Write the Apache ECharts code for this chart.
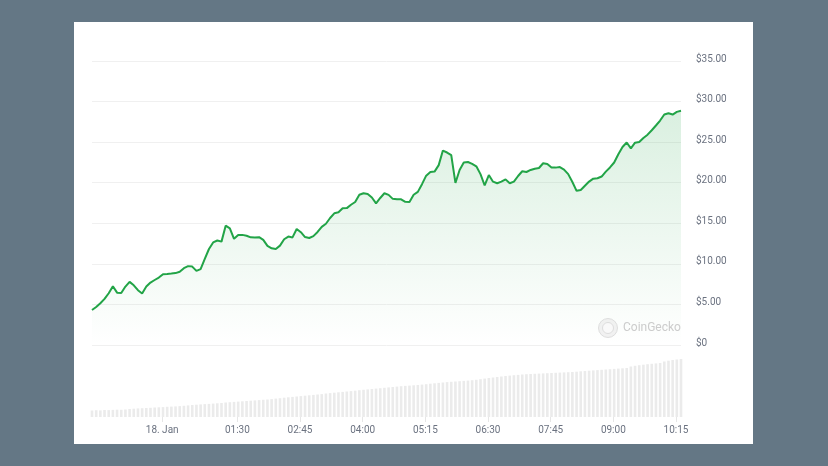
<!DOCTYPE html>
<html>
<head>
<meta charset="utf-8">
<script src="https://cdn.jsdelivr.net/npm/echarts@6/dist/echarts.min.js"></script>
<style>
html,body{margin:0;padding:0;background:#647785;}
#chart{width:828px;height:466px;}
</style>
</head>
<body>
<div id="chart"></div>
<script>
// Time: 5-minute steps starting 17 Jan 22:36 (minutes relative to 18 Jan 00:00)
const startMinute = -84;
const stepMinutes = 5;

// Price in USD, one value per 5-minute step
const priceValues = [
  4.31, 4.68, 5.14, 5.68, 6.38, 7.25, 6.45, 6.40, 7.20, 7.78,
  7.36, 6.75, 6.35, 7.20, 7.70, 8.01, 8.31, 8.73, 8.75, 8.80,
  8.86, 9.02, 9.47, 9.72, 9.66, 9.14, 9.35, 10.60, 11.83, 12.64,
  12.88, 12.74, 14.70, 14.38, 13.09, 13.56, 13.57, 13.47, 13.27, 13.25,
  13.29, 12.95, 12.21, 11.92, 11.84, 12.25, 13.03, 13.36, 13.26, 14.30,
  13.90, 13.30, 13.19, 13.42, 13.93, 14.56, 14.94, 15.65, 16.23, 16.35,
  16.85, 16.87, 17.28, 17.62, 18.51, 18.70, 18.62, 18.18, 17.45, 18.12,
  18.70, 18.50, 18.01, 17.95, 17.95, 17.64, 17.62, 18.51, 18.87, 19.82,
  20.87, 21.33, 21.37, 22.17, 23.96, 23.72, 23.40, 19.97, 21.57, 22.49,
  22.55, 22.33, 22.02, 21.06, 19.66, 20.95, 20.13, 19.94, 20.13, 20.41,
  19.93, 20.13, 20.83, 21.41, 21.32, 21.57, 21.73, 21.81, 22.40, 22.32,
  21.88, 21.86, 21.93, 21.62, 21.06, 20.09, 19.00, 19.10, 19.62, 20.14,
  20.50, 20.55, 20.76, 21.37, 21.88, 22.49, 23.50, 24.40, 24.96, 24.24,
  24.93, 25.01, 25.51, 25.92, 26.47, 27.05, 27.66, 28.41, 28.56, 28.40,
  28.73, 28.86
];

// Volume (relative units), one value per 5-minute step
const volumeValues = [
  6.5, 6.8, 6.6, 7.0, 6.9, 7.1, 7.3, 7.2, 7.5,
  8.0, 8.3, 8.6, 8.8, 9.0, 9.2, 9.5, 9.7, 9.9, 10.2, 10.4, 10.6, 10.9, 11.2,
  11.6, 12.0, 12.3, 12.6, 12.9, 13.1, 13.4, 13.7, 14.0,
  14.5, 14.8, 15.1, 15.4, 15.7, 16.0, 16.3, 16.6, 16.9, 17.2, 17.5, 17.9,
  18.4, 18.8, 19.3, 19.7, 20.1, 20.5, 20.9, 21.3, 21.7, 22.1, 22.5, 22.9,
  23.5, 23.9, 24.3, 24.7, 25.1, 25.5, 25.9, 26.3,
  26.8, 27.2, 27.6, 28.0, 28.4, 28.8, 29.2, 29.6, 30.0,
  30.4, 30.8, 31.1, 31.4, 31.7, 32.0, 32.4, 32.8,
  33.3, 33.7, 34.1, 34.5, 34.9, 35.2, 35.5, 35.8, 36.1, 36.4, 36.8, 37.2,
  37.8, 38.4, 39.0, 39.5, 40.0, 40.5, 41.0, 41.4, 41.8, 42.1,
  42.5, 42.8, 43.0, 43.2, 43.4, 43.6, 43.8, 44.0, 44.2, 44.4, 44.6, 44.8, 45.0, 45.3,
  45.7, 46.0, 46.3, 46.6, 46.9, 47.2, 47.5, 47.8, 48.1, 48.4, 48.7, 49.0,
  50.5, 51.2, 51.8, 52.3, 52.8, 53.2, 53.6, 54.0,
  55.5, 56.3, 57.0, 57.5, 58.0
];

// X tick labels and their positions (minutes from 18 Jan 00:00)
const xTickMinutes = [0, 90, 165, 240, 315, 390, 465, 540, 615];
const xTickLabels = ['18. Jan', '01:30', '02:45', '04:00', '05:15', '06:30', '07:45', '09:00', '10:15'];

const minutes = priceValues.map((_, i) => startMinute + i * stepMinutes);
const priceData = priceValues.map((v, i) => [minutes[i], v]);
const volumeData = volumeValues.map((v, i) => [minutes[i], v]);
const xMin = minutes[0];
const xMax = minutes[minutes.length - 1];

const green = '#22a447';
const labelFont = 'Roboto, "Noto Sans", sans-serif';

const chart = echarts.init(document.getElementById('chart'), null, {renderer: 'canvas'});
chart.setOption({
  backgroundColor: '#647785',
  animation: false,
  graphic: [
    {type: 'rect', z: -10, shape: {x: 74, y: 22, width: 679, height: 422},
     style: {fill: '#ffffff'}},
    {type: 'circle', z: 100, shape: {cx: 608, cy: 328, r: 9.5},
     style: {fill: 'rgba(235,235,235,0.7)', stroke: 'rgba(215,215,215,0.8)', lineWidth: 1}},
    {type: 'circle', z: 101, shape: {cx: 608, cy: 328, r: 5.5},
     style: {fill: 'rgba(255,255,255,0.6)', stroke: 'rgba(215,215,215,0.8)', lineWidth: 1}},
    {type: 'text', z: 100, x: 623, y: 328,
     style: {text: 'CoinGecko', fill: 'rgba(195,195,195,0.85)', font: '12px ' + labelFont, verticalAlign: 'middle'}}
  ],
  grid: [
    {left: 92, right: 147, top: 61, height: 284},
    {left: 92, right: 147, top: 355, height: 62}
  ],
  xAxis: [
    {type: 'value', gridIndex: 0, min: xMin, max: xMax,
     axisLine: {show: false}, axisTick: {show: false}, axisLabel: {show: false}, splitLine: {show: false}},
    {type: 'value', gridIndex: 1, min: xMin, max: xMax,
     axisLine: {show: false},
     axisTick: {show: true, customValues: xTickMinutes, length: 5, lineStyle: {color: '#e6e6e6'}},
     axisLabel: {
       show: true, customValues: xTickMinutes, margin: 8,
       color: '#6b7280', fontSize: 10, fontFamily: labelFont,
       formatter: function (v) {
         const k = xTickMinutes.indexOf(v);
         return k >= 0 ? xTickLabels[k] : '';
       }
     },
     splitLine: {show: false}}
  ],
  yAxis: [
    {type: 'value', gridIndex: 0, position: 'right', min: 0, max: 35, interval: 5,
     axisLine: {show: false}, axisTick: {show: false},
     axisLabel: {
       margin: 15, color: '#6b7280', fontSize: 10, fontFamily: labelFont,
       verticalAlign: 'middle',
       formatter: function (v) { return '{p|' + (v === 0 ? '$0' : '$' + v.toFixed(2)) + '}'; },
       rich: {p: {color: '#6b7280', fontSize: 10, fontFamily: labelFont, padding: [0, 0, 4, 0]}}
     },
     splitLine: {show: true, lineStyle: {color: '#f0f0f0', width: 1}}},
    {type: 'value', gridIndex: 1, min: 0, max: 62,
     axisLine: {show: false}, axisTick: {show: false}, axisLabel: {show: false}, splitLine: {show: false}}
  ],
  series: [
    {
      type: 'line', name: 'Price', xAxisIndex: 0, yAxisIndex: 0,
      data: priceData, showSymbol: false, smooth: false,
      lineStyle: {color: green, width: 2},
      itemStyle: {color: green},
      areaStyle: {
        color: new echarts.graphic.LinearGradient(0, 0, 0, 1, [
          {offset: 0, color: 'rgba(34,164,71,0.24)'},
          {offset: 1, color: 'rgba(34,164,71,0.0)'}
        ])
      },
      z: 3
    },
    {
      type: 'bar', name: 'Volume', xAxisIndex: 1, yAxisIndex: 1,
      data: volumeData, barWidth: 2.6,
      itemStyle: {color: '#ebebeb'}
    }
  ]
});
</script>
</body>
</html>
